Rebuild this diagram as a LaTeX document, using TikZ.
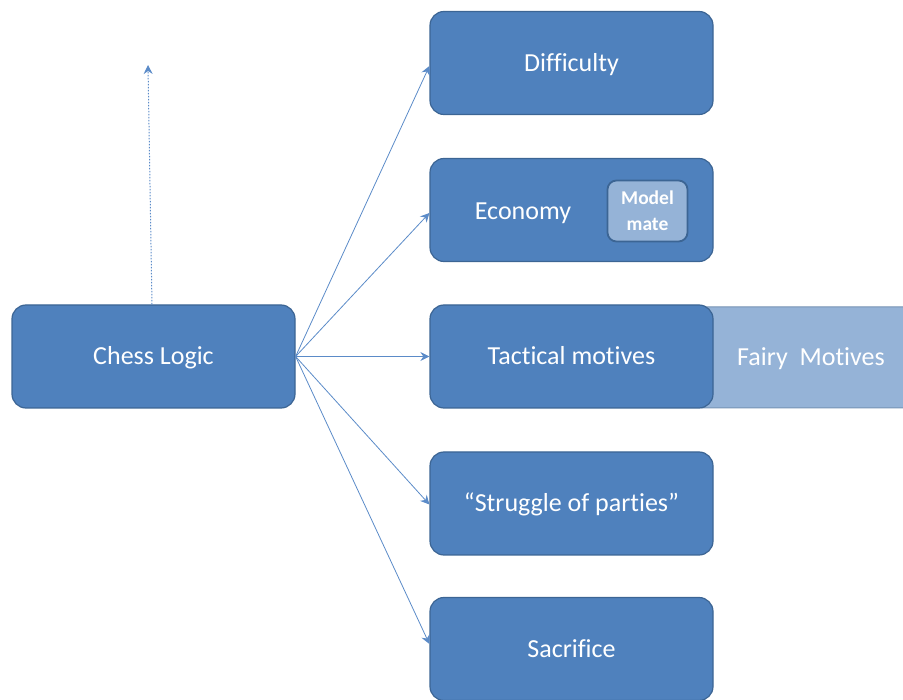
\documentclass[tikz,border=0pt]{standalone}
\usepackage{fontspec}
\setmainfont{Carlito}[Ligatures=NoCommon]
\usetikzlibrary{arrows.meta,calc}
\definecolor{boxfill}{HTML}{4F81BD}
\definecolor{boxline}{HTML}{3C6594}
\definecolor{lightfill}{HTML}{95B3D7}
\definecolor{arrowcol}{HTML}{5B8BC8}
\tikzset{
  mainbox/.style={draw=boxline, line width=1.2pt, fill=boxfill, rounded corners=14pt,
    minimum width=283pt, minimum height=103pt, text=white, inner sep=0pt,
    text height=17pt, text depth=0pt,
    font=\fontsize{26}{30}\selectfont},
  mmbox/.style={draw=boxline, line width=1.8pt, fill=lightfill, rounded corners=9pt,
    minimum width=80pt, minimum height=61pt, text=white, inner sep=0pt, align=center,
    font=\fontsize{19.5}{26}\selectfont\bfseries},
  conn/.style={draw=arrowcol, line width=0.8pt, -{Stealth[length=9pt,width=9pt,inset=3pt]}},
  txt/.style={text=white, inner sep=0pt, text height=17pt, text depth=0pt,
    font=\fontsize{26}{30}\selectfont}
}
\begin{document}
\begin{tikzpicture}[x=1pt,y=-1pt]
\useasboundingbox (0,0) rectangle (903,700);
% fairy box behind tactical
\fill[lightfill, draw=boxline!70, line width=1pt, rounded corners=14pt] (690,307) rectangle (920,408);
\node[txt] (fairy) at (811,357) {Fairy\ \ Motives};
\node[mainbox] (cl) at (153.5,356.5) {Chess Logic};
\node[mainbox] (dif) at (571.5,63) {Difficulty};
\node[mainbox] (eco) at (571.5,210) {};
\node[txt] (ecot) at (523,211) {Economy};
\node[mmbox] (mm) at (647.5,211) {Model\\mate};
\node[mainbox] (tac) at (571.5,356.5) {Tactical motives};
\node[mainbox] (str) at (571.5,503.5) {“Struggle of parties”};
\node[mainbox] (sac) at (571.5,649) {Sacrifice};
\coordinate (up) at (148,65);
\draw[conn] (cl.east) -- ($(dif.west)+(0,3)$);
\draw[conn] (cl.east) -- ($(eco.west)+(0,3)$);
\draw[conn] (cl.east) -- (tac.west);
\draw[conn] (cl.east) -- ($(str.west)+(0,1)$);
\draw[conn] (cl.east) -- ($(sac.west)+(0,-5)$);
\draw[conn, line width=1pt, dash pattern=on 1.5pt off 1.5pt] ($(cl.north)+(-1.5,0)$) -- (up);
\end{tikzpicture}
\end{document}
